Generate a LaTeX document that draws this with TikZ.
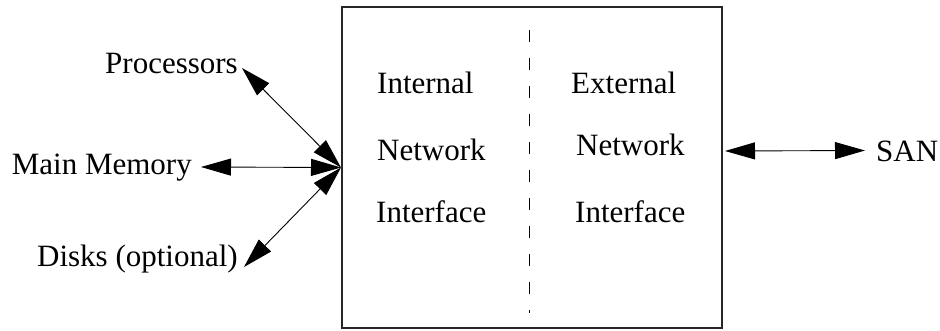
\documentclass[tikz,border=0pt]{standalone}
\usepackage{fontspec}
\setmainfont{Liberation Serif}
\usetikzlibrary{arrows.meta,calc}
\begin{document}
\begin{tikzpicture}[x=1pt,y=-1pt,
  lbl/.style={inner sep=0pt,font=\fontsize{31}{37}\selectfont},
  link/.style={line width=0.9pt,{Triangle[length=30pt,width=17pt]}-{Triangle[length=30pt,width=17pt]}},
  frame/.style={draw=black!85,line width=1.6pt,inner sep=0pt,outer sep=0pt}]
\useasboundingbox (0,0) rectangle (940,330);

% the interface box and its dashed divider
\node[frame,minimum width=380pt,minimum height=321pt,anchor=north west] (nic) at (342,7) {};
\draw[line width=1pt,dash pattern=on 12pt off 16pt] (529,30) -- (529,313);

% halves of the interface
\node[lbl,anchor=base west] (inA) at (377,93) {Internal};
\node[lbl,anchor=base west] (inB) at (377,160) {Network};
\node[lbl,anchor=base west] (inC) at (376,222) {Interface};
\node[lbl,anchor=base west] (exA) at (571,93) {External};
\node[lbl,anchor=base west] (exB) at (576,155) {Network};
\node[lbl,anchor=base west] (exC) at (575,222) {Interface};

% attached components
\node[lbl,anchor=base east] (proc) at (238,73) {Processors};
\node[lbl,anchor=base east] (mem) at (192,174) {Main Memory};
\node[lbl,anchor=base east] (disk) at (238,266) {Disks (optional)};
\node[lbl,anchor=base west] (san) at (876,161) {SAN};

\coordinate (hub) at ($(nic.west)+(-1,0)$);

% connections
\draw[link] ($(proc.base east)+(4,-5)$) -- (hub);
\draw[link] ($(mem.base east)+(9,-7)$) -- (hub);
\draw[link] ($(disk.base east)+(6,1)$) -- (hub);
\draw[link] ($(nic.east)+(3,-16.5)$) -- ($(san.base west)+(-11,-10.5)$);
\end{tikzpicture}
\end{document}
